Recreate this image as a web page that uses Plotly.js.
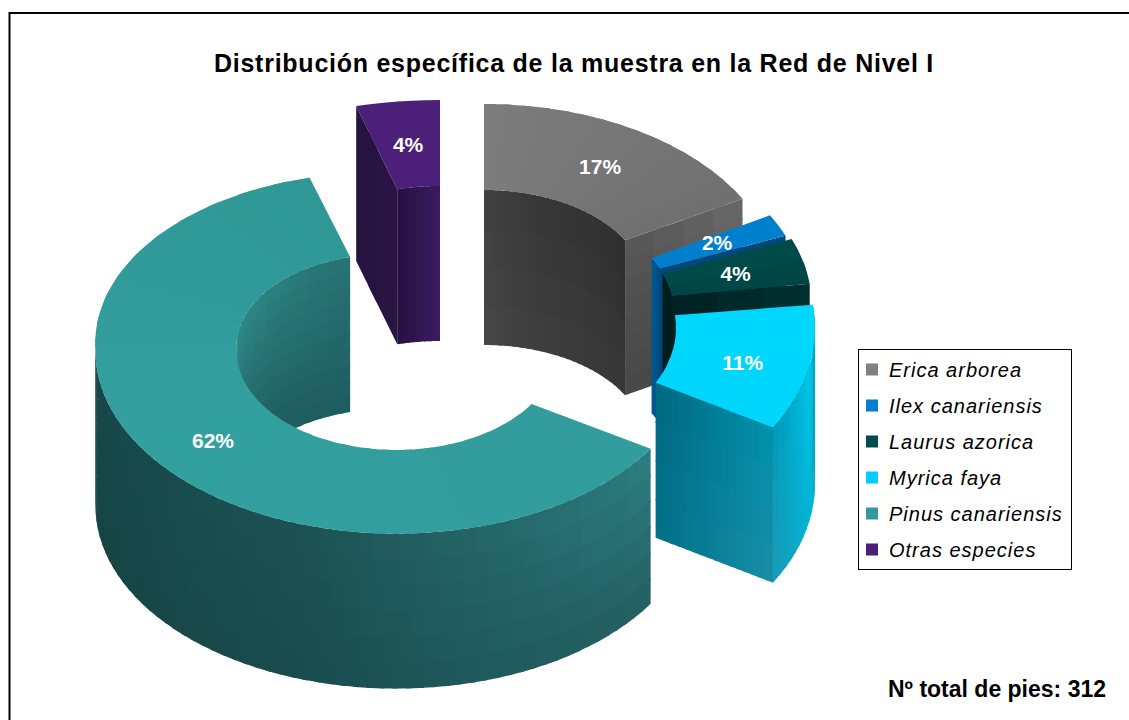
<!DOCTYPE html>
<html><head><meta charset="utf-8">
<script src="https://cdn.plot.ly/plotly-3.0.1.min.js"></script>
<style>
html,body{margin:0;padding:0;background:#fff}
.legendtext{letter-spacing:1px;transform:translateX(-10px)}
.legendsymbols{transform:translateX(-7px)}
.legend rect.bg{width:213px}
.gtitle{letter-spacing:0.75px}
</style></head><body>
<div id="chart" style="width:1129px;height:720px"></div>
<script>
// ---- data ----
const species = ["Erica arborea","Ilex canariensis","Laurus azorica","Myrica faya","Pinus canariensis","Otras especies"];
const shares = [17,2,4,11,62,4];
const legendColors = ["#808080","#0080CC","#004C4C","#00CCFF","#339999","#4C1F78"];
const chartTitle = "Distribución específica de la muestra en la Red de Nivel I";
const footNote = "Nº total de pies: 312";

// ---- projected 3D geometry (pixels on the hidden axes) ----
const depth = 155;
const geom = [
 {cx:484,cy:287,a:295,b:183,ai:161,bi:97,skew:0,k:1,dx:0,dy:2},
 {cx:514,cy:302,a:292,b:180,ai:157,bi:91,skew:0,k:1,dx:0,dy:0},
 {cx:522,cy:307,a:290,b:185,ai:151,bi:90,skew:0,k:1,dx:0,dy:3},
 {cx:545,cy:328,a:270,b:186,ai:131,bi:102,skew:0,k:1,dx:2,dy:5},
 {cx:396.5,cy:351,a:301,b:179,ai:160,bi:97,skew:0.07,k:1.02,dx:3,dy:9},
 {cx:440,cy:290,a:337,b:190,ai:172,bi:104,skew:0,k:1,dx:0,dy:3}
];
const total = shares.reduce((s,v)=>s+v,0);
let acc = 0;
const slices = shares.map((v,i)=>{const t0=acc/total*2*Math.PI; acc+=v; return Object.assign({t0,t1:acc/total*2*Math.PI},geom[i]);});
const rad = d=>d*Math.PI/180;

function pt(s,outer,t,dz){
  const rx=outer?s.a:s.ai, ry=outer?s.b:s.bi;
  let x=s.cx+rx*Math.sin(t), y=s.cy-ry*Math.cos(t);
  if(y<s.cy) x-=s.skew*(s.cy-y); else y=s.cy+(y-s.cy)*s.k;
  return [x,y+(dz||0)];
}
function hex(c){return [1,3,5].map(k=>parseInt(c.substr(k,2),16));}
function mix(stops,u){
  u=Math.max(0,Math.min(1,u));
  const n=stops.length-1, k=Math.min(n-1,Math.floor(u*n)), f=u*n-k;
  const A=hex(stops[k]),B=hex(stops[k+1]);
  return A.map((v,j)=>v+(B[j]-v)*f);
}
const css=c=>"rgb("+c.map(Math.round).join(",")+")";
const blend=(A,B,v)=>css(A.map((c,j)=>c+(B[j]-c)*v));
const traces=[];
function poly(pts,color){
  traces.push({type:"scatter",mode:"none",x:pts.map(p=>p[0]).concat(pts[0][0]),y:pts.map(p=>p[1]).concat(pts[0][1]),
    fill:"toself",fillcolor:color,showlegend:false,hoverinfo:"skip"});
}
function arc(s,outer,t0,t1,dz,n){const r=[];for(let k=0;k<=n;k++)r.push(pt(s,outer,t0+(t1-t0)*k/n,dz));return r;}
// each strip runs a little under the next one so no seam shows
function face(s,stops,n){
  for(let k=0;k<n;k++){
    const a=s.t0+(s.t1-s.t0)*k/n,b=k==n-1?s.t1:s.t0+(s.t1-s.t0)*(k+1.4)/n;
    poly(arc(s,true,a,b,0,6).concat(arc(s,false,b,a,0,6)),css(mix(stops,(k+0.5)/n)));
  }
}
// curved wall, columns along the angle, rows along the height
function wall(s,outer,t0,t1,stops,botStops,n,rows){
  for(let k=0;k<n;k++){
    const a=t0+(t1-t0)*k/n,b=k==n-1?t1:t0+(t1-t0)*(k+1.4)/n,u=(k+0.5)/n;
    const A=mix(stops,u),B=mix(botStops,u);
    for(let r=0;r<rows;r++){
      const d0=depth*r/rows,d1=r==rows-1?depth:depth*(r+1)/rows+1.5;
      poly(arc(s,outer,a,b,d0,2).concat(arc(s,outer,b,a,d1,2)),blend(A,B,(r+0.5)/rows));
    }
  }
}
// flat cut face at angle t, columns from inner to outer
function cut(s,t,stops,botStops,n,rows){
  const I=pt(s,false,t),O=pt(s,true,t);
  const P=(f,d)=>[I[0]+(O[0]-I[0])*f,I[1]+(O[1]-I[1])*f+d];
  for(let k=0;k<n;k++){
    const u0=k/n,u1=k==n-1?1:(k+1.4)/n,u=(k+0.5)/n,A=mix(stops,u),B=mix(botStops,u);
    for(let r=0;r<rows;r++){
      const d0=depth*r/rows,d1=r==rows-1?depth:depth*(r+1)/rows+1.5;
      poly([P(u0,d0),P(u1,d0),P(u1,d1),P(u0,d1)],blend(A,B,(r+0.5)/rows));
    }
  }
}
const [er,il,la,my,pi,ot]=slices;

// Otras especies
cut(ot,ot.t0,["#2a1546","#24123e"],["#2a1546","#24123e"],2,1);
wall(ot,false,ot.t0,ot.t1,["#26123f","#3a1c60"],["#26123f","#3a1c60"],8,1);
face(ot,["#4C1F78","#4C1F78"],1);
// Pinus inner wall
wall(pi,false,rad(262),pi.t1,["#2f8f8c","#2c8582","#277272"],["#245f60","#1f5a5c","#1e5d5f"],20,10);
// Erica
wall(er,false,er.t0,er.t1,["#414141","#363636","#333333","#2e2e2e"],["#474747","#3e3e3e","#3a3a3a","#383838"],24,4);
cut(er,er.t1,["#555555","#6a6a6a"],["#454545","#555555"],4,8);
face(er,["#7c7c7c","#767676","#707070"],16);
// Ilex
wall(il,false,il.t0,il.t1,["#005a96","#00487c"],["#005a96","#00487c"],3,1);
cut(il,il.t1,["#00487c","#00487c"],["#00487c","#00487c"],1,1);
face(il,["#0080CC","#0080CC"],1);
// Laurus
wall(la,false,la.t0,la.t1,["#001f1f","#001a1a"],["#001f1f","#001a1a"],3,1);
cut(la,la.t1,["#001f1f","#003232"],["#001f1f","#003232"],3,1);
face(la,["#004C4C","#004444"],2);
// Myrica
cut(my,my.t1,["#00687f","#0092ae"],["#007088","#1a8ea8"],16,4);
wall(my,true,my.t1,my.t0,["#0098b6","#00c6ea","#00a2c2"],["#1a9cb8","#00b4d4","#00a2c2"],16,6);
face(my,["#00D8FF","#00D4FA"],2);
// Pinus outer wall and top
wall(pi,true,pi.t0,rad(272),["#2d8082","#26696b","#1d5254","#184a4c","#174646"],["#245f62","#1f5a5c","#1a4c4e","#174647","#164444"],60,6);
face(pi,["#339C9C","#33A0A0","#2F9896"],30);

// percentage labels at the middle of each top face
traces.push({type:"scatter",mode:"text",
  x:slices.map(s=>pt(s,true,(s.t0+s.t1)/2)[0]/2+pt(s,false,(s.t0+s.t1)/2)[0]/2+s.dx),
  y:slices.map(s=>pt(s,true,(s.t0+s.t1)/2)[1]/2+pt(s,false,(s.t0+s.t1)/2)[1]/2+s.dy),
  text:shares.map(v=>v+"%"),textposition:"middle center",
  textfont:{family:"Liberation Sans",size:21,color:"#ffffff",weight:700},showlegend:false,hoverinfo:"skip"});
// legend entries
species.forEach((n,i)=>traces.push({type:"scatter",mode:"markers",name:n,legendgroup:n,x:[-100],y:[-100],
  marker:{symbol:"square",size:12,color:legendColors[i]},hoverinfo:"skip"}));

const layout={
  width:1129,height:720,margin:{l:0,r:0,t:0,b:0},paper_bgcolor:"#fff",plot_bgcolor:"#fff",
  xaxis:{range:[0,1129],visible:false,fixedrange:true},
  yaxis:{range:[720,0],visible:false,fixedrange:true},
  title:{text:"<b>"+chartTitle+"</b>",font:{family:"Liberation Sans",size:25,color:"#000"},x:574/1129,xanchor:"center",y:1-63/720,yanchor:"middle"},
  shapes:[{type:"rect",xref:"x",yref:"y",x0:9.5,y0:13,x1:1140,y1:730,line:{color:"#000",width:2},layer:"below"}],
  annotations:[{xref:"x",yref:"y",x:997,y:689,text:"<b>"+footNote+"</b>",showarrow:false,xanchor:"center",yanchor:"middle",
    font:{family:"Liberation Sans",size:23,color:"#000"}}],
  legend:{x:858/1129,y:1-349/720,xanchor:"left",yanchor:"top",bgcolor:"#fff",bordercolor:"#000",borderwidth:1,
    font:{family:"Liberation Sans",size:20,color:"#000",style:"italic"},tracegroupgap:7,traceorder:"grouped",
    entrywidth:164,entrywidthmode:"pixels",itemclick:false,itemdoubleclick:false},
  showlegend:true
};
Plotly.newPlot("chart",traces,layout,{displayModeBar:false,staticPlot:true});
</script></body></html>
